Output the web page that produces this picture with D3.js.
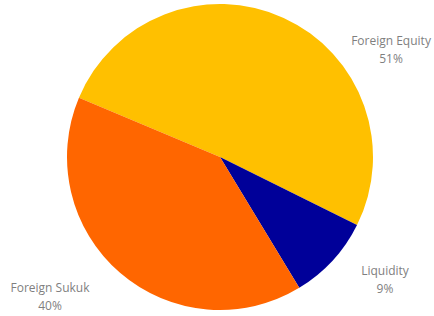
<!DOCTYPE html>
<html>
<head>
<meta charset="utf-8">
<script src="https://cdn.jsdelivr.net/npm/d3@7"></script>
<style>
  body { margin: 0; background: #fff; }
  text { font-family: "Open Sans", sans-serif; font-size: 12px; fill: #7f7f7f; }
</style>
</head>
<body>
<svg id="chart" width="434" height="316"></svg>
<script>
const categories = ["Foreign Equity", "Liquidity", "Foreign Sukuk"];
const shares = [51, 9, 40];
const colors = ["#FFC000", "#000099", "#FF6600"];

const width = 434, height = 316;
const cx = 220, cy = 157, radius = 153;
// label anchors (pixels) as Excel places them outside the pie
const labelAt = [[391, 41], [385, 271], [50, 288]];

const svg = d3.select("#chart");
const g = svg.append("g").attr("transform", `translate(${cx},${cy})`);

const startDeg = 292.8;
const pie = d3.pie()
  .sort(null)
  .value(d => d)
  .startAngle(startDeg * Math.PI / 180)
  .endAngle((startDeg + 360) * Math.PI / 180);

const arc = d3.arc().innerRadius(0).outerRadius(radius);

const color = d3.scaleOrdinal().domain(categories).range(colors);

g.selectAll("path")
  .data(pie(shares))
  .enter()
  .append("path")
  .attr("d", arc)
  .attr("fill", (d, i) => color(categories[i]));

const labels = svg.selectAll("text.lbl")
  .data(categories)
  .enter()
  .append("text")
  .attr("class", "lbl")
  .attr("text-anchor", "middle")
  .attr("transform", (d, i) => `translate(${labelAt[i][0]},${labelAt[i][1]})`);

labels.append("tspan").attr("x", 0).attr("dy", "0.35em").text(d => d);
labels.append("tspan").attr("x", 0).attr("dy", 18)
  .text((d, i) => shares[i] + "%");
</script>
</body>
</html>
